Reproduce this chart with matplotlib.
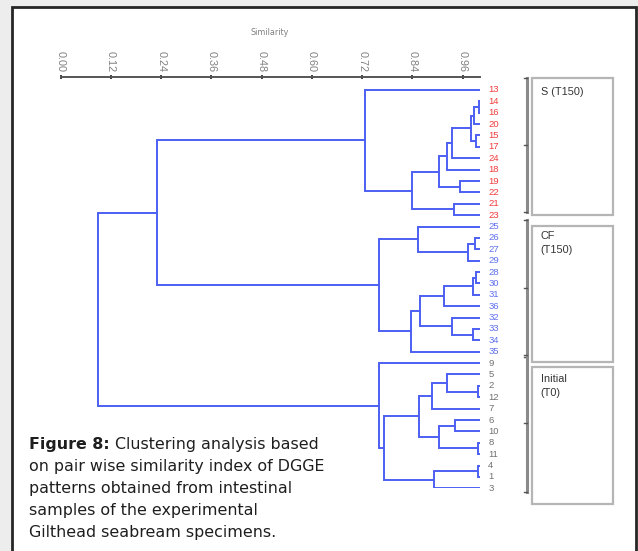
import matplotlib.pyplot as plt
from matplotlib.patches import Rectangle

# leaf order in the dendrogram, top to bottom
leaves = ['13', '14', '16', '20', '15', '17', '24', '18', '19', '22', '21', '23',
          '25', '26', '27', '29', '28', '30', '31', '36', '32', '33', '34', '35',
          '9', '5', '2', '12', '7', '6', '10', '8', '11', '4', '1', '3']

s_leaves = ['13', '14', '16', '20', '15', '17', '24', '18', '19', '22', '21', '23']
cf_leaves = ['25', '26', '27', '29', '28', '30', '31', '36', '32', '33', '34', '35']
initial_leaves = ['9', '5', '2', '12', '7', '6', '10', '8', '11', '4', '1', '3']

# merges: (node name, left child, right child, similarity)
merges = [
    ('s1', '14', '16', 0.998),
    ('s2', 's1', '20', 0.988),
    ('s3', '15', '17', 0.992),
    ('s4', 's2', 's3', 0.979),
    ('s5', 's4', '24', 0.934),
    ('s6', 's5', '18', 0.923),
    ('s7', '19', '22', 0.953),
    ('s8', 's6', 's7', 0.903),
    ('s9', '21', '23', 0.938),
    ('s10', 's8', 's9', 0.838),
    ('s11', '13', 's10', 0.727),
    ('c1', '26', '27', 0.990),
    ('c2', 'c1', '29', 0.973),
    ('c3', '25', 'c2', 0.854),
    ('c4', '28', '30', 0.992),
    ('c5', 'c4', '31', 0.985),
    ('c6', 'c5', '36', 0.915),
    ('c7', '33', '34', 0.985),
    ('c8', '32', 'c7', 0.934),
    ('c9', 'c6', 'c8', 0.858),
    ('c10', 'c9', '35', 0.836),
    ('c11', 'c3', 'c10', 0.759),
    ('i1', '2', '12', 0.997),
    ('i2', '5', 'i1', 0.923),
    ('i3', 'i2', '7', 0.886),
    ('i4', '6', '10', 0.942),
    ('i5', '8', '11', 0.997),
    ('i6', 'i4', 'i5', 0.903),
    ('i7', 'i3', 'i6', 0.856),
    ('i8', '4', '1', 0.997),
    ('i9', 'i8', '3', 0.891),
    ('i10', 'i7', 'i9', 0.771),
    ('i11', '9', 'i10', 0.759),
    ('r1', 's11', 'c11', 0.229),
    ('r2', 'r1', 'i11', 0.088),
]

group_names = ['S (T150)', 'CF\n(T150)', 'Initial\n(T0)']
group_colors = ['#f03c3c', '#6070ee', '#707070']

ticks = [0.00, 0.12, 0.24, 0.36, 0.48, 0.60, 0.72, 0.84, 0.96]

caption_bold = 'Figure 8:'
caption_lines = [' Clustering analysis based',
                 'on pair wise similarity index of DGGE',
                 'patterns obtained from intestinal',
                 'samples of the experimental',
                 'Gilthead seabream specimens.']

# layout of the group boxes on the right (in leaf-row units)
box_spans = [(-1.05, 10.98), (11.95, 23.87), (24.37, 36.38)]
bracket_spans = [(-1.05, 10.69), (11.42, 23.44), (23.29, 35.3)]
text_tops = [-0.28, 12.4, 24.95]

W, H = 638, 551
fig = plt.figure(figsize=(W / 100, H / 100), dpi=100)
fig.patch.set_facecolor('#ededed')
fig.add_artist(Rectangle((11.7 / W, -0.1), (635.7 - 11.7) / W, (H - 7) / H + 0.1,
                         transform=fig.transFigure, facecolor='white',
                         edgecolor='#262626', lw=2, zorder=-5))

ax = fig.add_axes([60.7 / W, 1 - 488.3 / H, 418.8 / W, (488.3 - 77) / H])
ax.set_facecolor('none')
ax.set_xlim(0, 1)
ax.set_ylim(35, -1.14)

# dendrogram
line_color = '#4d5ff2'
pos = {name: (1.0, i) for i, name in enumerate(leaves)}
for name, a, b, sim in merges:
    xa, ya = pos[a]
    xb, yb = pos[b]
    ax.plot([xa, sim, sim, xb], [ya, ya, yb, yb], color=line_color, lw=1.4,
            solid_joinstyle='miter', solid_capstyle='butt')
    pos[name] = (sim, (ya + yb) / 2)

# leaf labels
for i, name in enumerate(leaves):
    if name in s_leaves:
        c = group_colors[0]
    elif name in cf_leaves:
        c = group_colors[1]
    else:
        c = group_colors[2]
    ax.text(1.021, i, name, color=c, fontsize=6.8, family='Liberation Sans',
            ha='left', va='center', clip_on=False)

# brackets and group boxes
for (b0, b1), (t0, t1), label, ty in zip(bracket_spans, box_spans, group_names, text_tops):
    ax.plot([1.113, 1.113], [b0, b1], color='#8a8a8a', lw=2.2, clip_on=False)
    for yy in (b0, (b0 + b1) / 2, b1):
        ax.plot([1.106, 1.113], [yy, yy], color='#555555', lw=1, clip_on=False)
    ax.add_patch(Rectangle((1.125, t0), 1.318 - 1.125, t1 - t0, facecolor='white',
                           edgecolor='#b5b5b5', lw=1.6, clip_on=False))
    ax.text(1.146, ty, label, fontsize=7.8, family='Liberation Sans', color='#333333',
            ha='left', va='top', linespacing=1.5, clip_on=False)

# similarity axis on top
for s in ['bottom', 'left', 'right']:
    ax.spines[s].set_visible(False)
ax.spines['top'].set_color('#555555')
ax.spines['top'].set_linewidth(1.4)
ax.xaxis.tick_top()
ax.xaxis.set_label_position('top')
ax.set_xticks(ticks)
ax.set_xticklabels([f'{t:.2f}' for t in ticks], rotation=270, family='Liberation Sans')
ax.tick_params(axis='x', direction='inout', length=3.5, width=1.3, color='#333333',
               labelcolor='#808080', labelsize=7.8, pad=2)
ax.set_yticks([])
ax.set_xlabel('Similarity', fontsize=5.8, color='#808080', labelpad=11)

# caption
fs = 11.4
y0 = 1 - 449.3 / H
t = fig.text(29.3 / W, y0, caption_bold, fontsize=fs, fontweight='bold',
             color='#1e1e1e', va='baseline', ha='left')
fig.canvas.draw()
bb = t.get_window_extent(fig.canvas.get_renderer())
fig.text(bb.x1 / W, y0, caption_lines[0], fontsize=fs, color='#1e1e1e',
         va='baseline', ha='left')
for k, line in enumerate(caption_lines[1:]):
    fig.text(29.3 / W, 1 - (449.3 + 22 * (k + 1)) / H, line, fontsize=fs,
             color='#1e1e1e', va='baseline', ha='left')

fig.savefig('out.png', dpi=100, facecolor=fig.get_facecolor())
